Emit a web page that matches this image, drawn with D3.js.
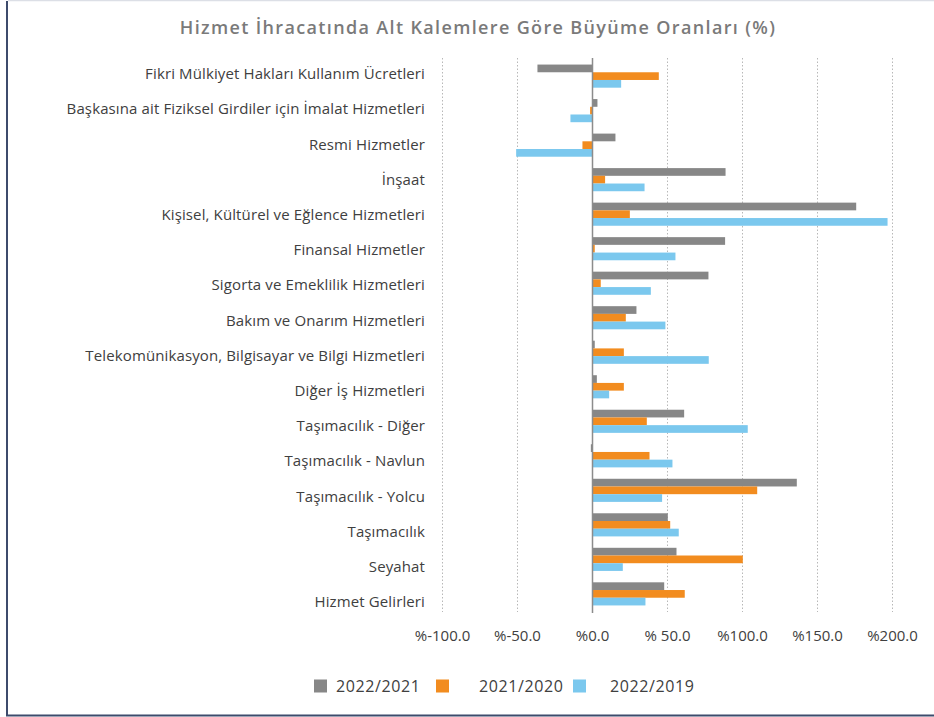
<!DOCTYPE html>
<html>
<head>
  <meta charset="utf-8">
  <title>Hizmet İhracatı Büyüme Oranları</title>
  <style>
    body {
      margin: 0;
      padding: 0;
      background: #ffffff;
      font-family: "Open Sans", Arial, sans-serif;
    }
    .cat-label {
      font-size: 15px;
      letter-spacing: 0.12px;
      fill: #404040;
    }
    .tick-label {
      font-size: 15px;
      fill: #404040;
    }
    .legend-label {
      font-size: 16px;
      letter-spacing: 0.6px;
      fill: #404040;
    }
  </style>
</head>
<body>
  <div id="chart"></div>
  <script src="https://d3js.org/d3.v7.min.js"></script>
  <script>
    // categories, top to bottom
    const categories = [
      "Fikri Mülkiyet Hakları Kullanım Ücretleri",
      "Başkasına ait Fiziksel Girdiler için İmalat Hizmetleri",
      "Resmi Hizmetler",
      "İnşaat",
      "Kişisel, Kültürel ve Eğlence Hizmetleri",
      "Finansal Hizmetler",
      "Sigorta ve Emeklilik Hizmetleri",
      "Bakım ve Onarım Hizmetleri",
      "Telekomünikasyon, Bilgisayar ve Bilgi Hizmetleri",
      "Diğer İş Hizmetleri",
      "Taşımacılık - Diğer",
      "Taşımacılık - Navlun",
      "Taşımacılık - Yolcu",
      "Taşımacılık",
      "Seyahat",
      "Hizmet Gelirleri"
    ];

    const seriesNames = ["2022/2021", "2021/2020", "2022/2019"];
    const seriesColors = ["#878787", "#f28c1f", "#7bc8ee"];

    // growth rates in %
    const v2022_2021 = [-36.7, 3.3, 15.3, 88.7, 175.8, 88.4, 77.3, 29.3, 1.5, 2.9, 61.1, -1.1, 136.2, 50.2, 56.0, 47.8];
    const v2021_2020 = [44.2, -1.6, -6.7, 8.4, 24.9, 1.5, 5.5, 22.2, 20.9, 20.9, 36.2, 38.0, 109.8, 51.8, 100.2, 61.5];
    const v2022_2019 = [19.1, -14.7, -50.9, 34.7, 196.7, 55.3, 38.9, 48.6, 77.5, 11.1, 103.5, 53.3, 46.4, 57.5, 20.2, 35.3];

    const tickValues = [-100, -50, 0, 50, 100, 150, 200];
    const tickLabels = ["%-100.0", "%-50.0", "%0.0", "% 50.0", "%100.0", "%150.0", "%200.0"];

    const seriesValues = [v2022_2021, v2021_2020, v2022_2019];

    const W = 934, H = 717;
    const plotTop = 58, plotBottom = 612;

    const svg = d3.select("#chart")
      .append("svg")
      .attr("width", W)
      .attr("height", H);

    // frame
    svg.append("line")
      .attr("x1", 8).attr("x2", W).attr("y1", 0.5).attr("y2", 0.5)
      .attr("stroke", "#dcdfe6").attr("stroke-width", 1.5);
    svg.append("line")
      .attr("x1", 7).attr("x2", 7).attr("y1", 1).attr("y2", 716)
      .attr("stroke", "#3d4b6c").attr("stroke-width", 2);
    svg.append("line")
      .attr("x1", 6).attr("x2", W).attr("y1", 715.5).attr("y2", 715.5)
      .attr("stroke", "#3d4b6c").attr("stroke-width", 2);

    // title
    svg.append("text")
      .attr("x", 478)
      .attr("y", 34)
      .attr("text-anchor", "middle")
      .style("font-size", "18px")
      .style("font-weight", "600")
      .style("letter-spacing", "1.35px")
      .attr("fill", "#7a7a7a")
      .text("Hizmet İhracatında Alt Kalemlere Göre Büyüme Oranları (%)");

    // scales
    const x = d3.scaleLinear().domain([-100, 200]).range([442.5, 892.5]);

    const y = d3.scaleBand()
      .domain(categories)
      .range([plotTop, plotBottom])
      .paddingInner(0.33)
      .paddingOuter(0.19);

    const ySub = d3.scaleBand()
      .domain(d3.range(seriesNames.length))
      .range([0, y.bandwidth()]);

    // labels sit on a slightly wider spacing than the bars
    const yLabel = d3.scalePoint()
      .domain(categories)
      .range([74, 602]);

    // gridlines
    svg.append("g")
      .selectAll("line")
      .data(tickValues.filter(d => d !== 0))
      .enter()
      .append("line")
      .attr("x1", d => x(d)).attr("x2", d => x(d))
      .attr("y1", plotTop).attr("y2", plotBottom)
      .attr("stroke", "#b8b8b8")
      .attr("stroke-width", 1)
      .attr("stroke-dasharray", "1.5,2");

    // bars
    const rows = categories.map((c, i) => ({
      cat: c,
      vals: seriesValues.map((s, k) => ({ k: k, v: s[i] }))
    }));

    const groups = svg.append("g")
      .selectAll("g")
      .data(rows)
      .enter()
      .append("g")
      .attr("transform", d => `translate(0,${y(d.cat)})`);

    groups.selectAll("rect")
      .data(d => d.vals)
      .enter()
      .append("rect")
      .attr("x", d => x(Math.min(0, d.v)))
      .attr("width", d => Math.abs(x(d.v) - x(0)))
      .attr("y", d => ySub(d.k))
      .attr("height", ySub.bandwidth())
      .attr("fill", d => seriesColors[d.k]);

    // zero line
    svg.append("line")
      .attr("x1", x(0)).attr("x2", x(0))
      .attr("y1", plotTop).attr("y2", plotBottom + 1)
      .attr("stroke", "#8c8c8c")
      .attr("stroke-width", 1.5);

    // category labels
    svg.append("g")
      .selectAll("text")
      .data(categories)
      .enter()
      .append("text")
      .attr("class", "cat-label")
      .attr("x", 425)
      .attr("y", d => yLabel(d))
      .attr("dy", "0.35em")
      .attr("text-anchor", "end")
      .text(d => d);

    // x tick labels
    svg.append("g")
      .selectAll("text")
      .data(tickValues)
      .enter()
      .append("text")
      .attr("class", "tick-label")
      .attr("x", d => x(d))
      .attr("y", 636)
      .attr("dy", "0.35em")
      .attr("text-anchor", "middle")
      .text((d, i) => tickLabels[i]);

    // legend
    const legendX = [314, 436, 573];
    const legendTextDx = [22, 43, 37];
    const legend = svg.append("g")
      .selectAll("g")
      .data(seriesNames)
      .enter()
      .append("g")
      .attr("transform", (d, i) => `translate(${legendX[i]},686)`);

    legend.append("rect")
      .attr("x", 0).attr("y", -6.5)
      .attr("width", 13).attr("height", 13)
      .attr("fill", (d, i) => seriesColors[i]);

    legend.append("text")
      .attr("class", "legend-label")
      .attr("x", (d, i) => legendTextDx[i])
      .attr("y", 0)
      .attr("dy", "0.35em")
      .text(d => d);
  </script>
</body>
</html>
